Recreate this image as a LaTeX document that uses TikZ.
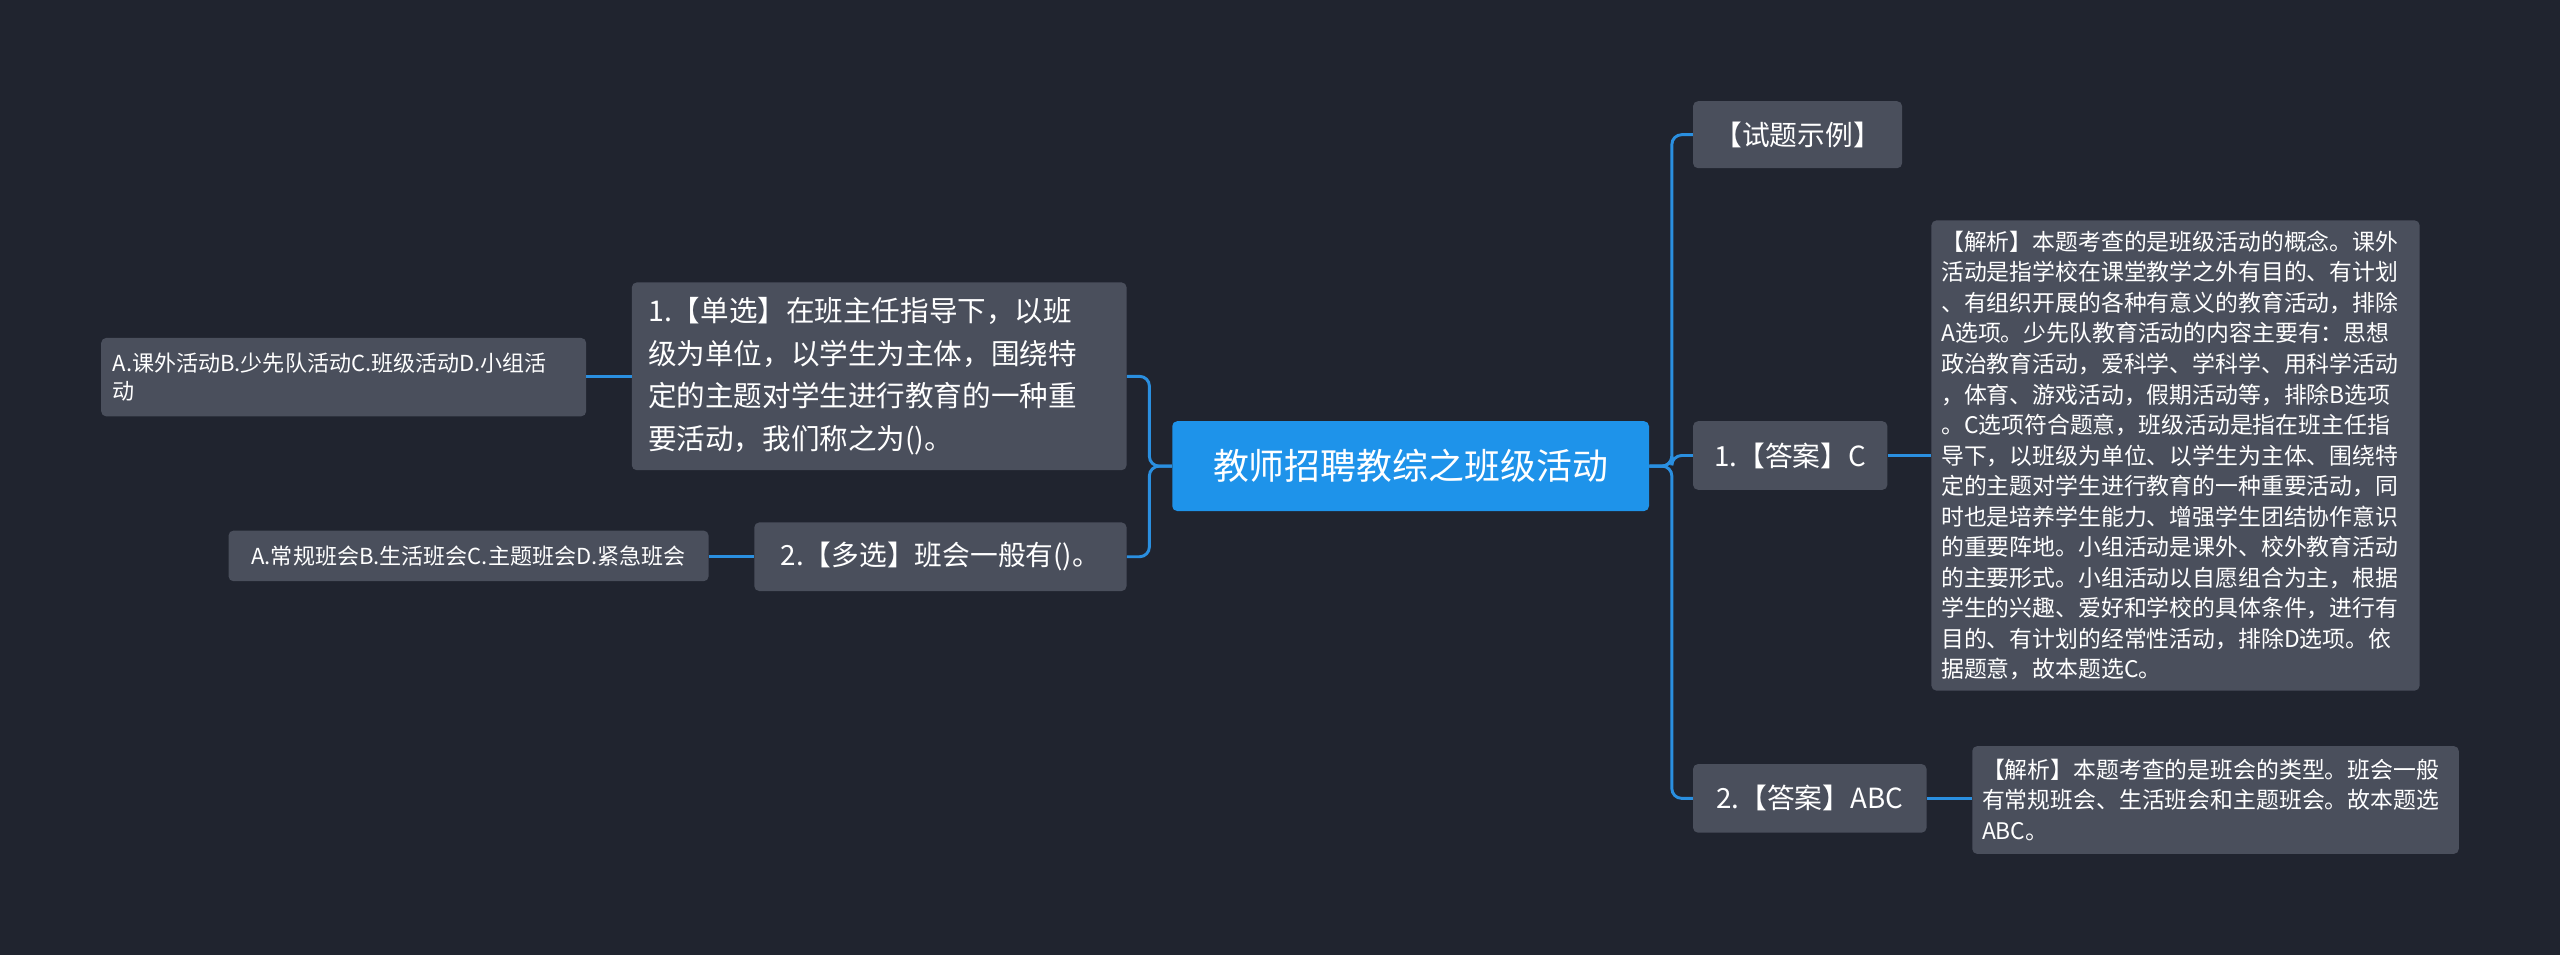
\documentclass[tikz,border=0pt]{standalone}
\usepackage{fontspec}
\setmainfont{Noto Sans CJK SC}
\begin{document}
\begin{tikzpicture}[x=1pt,y=-1pt,
  box/.style={fill=boxc,rounded corners=3pt,text=white,inner ysep=0pt,inner xsep=#1,align=left},
  box/.default=9pt,
  link/.style={draw=linec,line width=1.8pt,rounded corners=6pt}]
\definecolor{bg}{HTML}{20242F}
\definecolor{boxc}{HTML}{4A4F5C}
\definecolor{linec}{HTML}{2A8FE0}
\definecolor{mainc}{HTML}{1E93EA}
\fill[bg] (0,0) rectangle (1568,585);
\useasboundingbox (0,0) rectangle (1568,585);
% nodes
\node[box,fill=mainc,minimum width=292pt,minimum height=55pt,align=center,font=\fontsize{22}{26}\selectfont] (c) at (864,285.5) {教师招聘教综之班级活动};
\node[box,minimum width=128pt,minimum height=41pt,align=center,font=\fontsize{17}{20}\selectfont] (t) at (1101,82.5) {【试题示例】};
\node[box,minimum width=119pt,minimum height=42pt,align=center,font=\fontsize{17}{20}\selectfont] (a1) at (1096.5,279) {1.【答案】C};
\node[box,minimum width=143pt,minimum height=42pt,align=center,font=\fontsize{17}{20}\selectfont] (a2) at (1108.5,489) {2.【答案】ABC};
\node[box=6pt,text width=287pt,minimum height=288pt,font=\fontsize{14}{18.7}\selectfont] (e1) at (1332.5,279) {【解析】本题考查的是班级活动的概念。课外\\活动是指学校在课堂教学之外有目的、有计划\\、有组织开展的各种有意义的教育活动，排除\\A选项。少先队教育活动的内容主要有：思想\\政治教育活动，爱科学、学科学、用科学活动\\，体育、游戏活动，假期活动等，排除B选项\\。C选项符合题意，班级活动是指在班主任指\\导下，以班级为单位、以学生为主体、围绕特\\定的主题对学生进行教育的一种重要活动，同\\时也是培养学生能力、增强学生团结协作意识\\的重要阵地。小组活动是课外、校外教育活动\\的主要形式。小组活动以自愿组合为主，根据\\学生的兴趣、爱好和学校的具体条件，进行有\\目的、有计划的经常性活动，排除D选项。依\\据题意，故本题选C。};
\node[box=6pt,text width=286pt,minimum height=66pt,font=\fontsize{14}{18.7}\selectfont] (e2) at (1357,490) {【解析】本题考查的是班会的类型。班会一般\\有常规班会、生活班会和主题班会。故本题选\\ABC。};
\node[box=10pt,text width=283pt,minimum height=115pt,font=\fontsize{17.5}{26}\selectfont] (q1) at (538.5,230.5) {1.【单选】在班主任指导下，以班\\级为单位，以学生为主体，围绕特\\定的主题对学生进行教育的一种重\\要活动，我们称之为()。};
\node[box,minimum width=228pt,minimum height=42pt,align=center,font=\fontsize{17}{20}\selectfont] (q2) at (576,341) {2.【多选】班会一般有()。};
\node[box=7pt,text width=283pt,minimum height=48pt,font=\fontsize{13.5}{17}\selectfont] (o1) at (210.5,231) {A.课外活动B.少先队活动C.班级活动D.小组活\\动};
\node[box,minimum width=294pt,minimum height=31pt,align=center,font=\fontsize{13.5}{17}\selectfont] (o2) at (287,340.5) {A.常规班会B.生活班会C.主题班会D.紧急班会};
% links
\draw[link] (c.east) -- (1024,285.5) |- (t.west);
\draw[link] (c.east) -- (1024,285.5) |- (a1.west);
\draw[link] (c.east) -- (1024,285.5) |- (a2.west);
\draw[link] (a1.east) -- (e1.west |- a1.east);
\draw[link] (a2.east) -- (e2.west |- a2.east);
\draw[link] (c.west) -- (704,285.5) |- (q1.east);
\draw[link] (c.west) -- (704,285.5) |- (q2.east);
\draw[link] (q1.west) -- (o1.east |- q1.west);
\draw[link] (q2.west) -- (o2.east |- q2.west);
\end{tikzpicture}
\end{document}
